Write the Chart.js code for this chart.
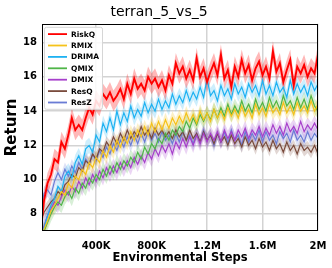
<!DOCTYPE html>
<html>
<head>
<meta charset="utf-8">
<script src="https://cdn.jsdelivr.net/npm/chart.js@4.4.0/dist/chart.umd.min.js"></script>
<style>
  html, body { margin: 0; padding: 0; background: #fff; }
  #wrap { width: 332px; height: 268px; }
</style>
</head>
<body>
<div id="wrap"><canvas id="chart" width="332" height="268"></canvas></div>
<script>
// environment steps, in thousands
var steps = [10,
  25, 50, 75, 100, 125, 150, 175, 200, 225, 250,
  275, 300, 325, 350, 375, 400, 425, 450, 475, 500,
  525, 550, 575, 600, 625, 650, 675, 700, 725, 750,
  775, 800, 825, 850, 875, 900, 925, 950, 975, 1000,
  1025, 1050, 1075, 1100, 1125, 1150, 1175, 1200, 1225, 1250,
  1275, 1300, 1325, 1350, 1375, 1400, 1425, 1450, 1475, 1500,
  1525, 1550, 1575, 1600, 1625, 1650, 1675, 1700, 1725, 1750,
  1775, 1800, 1825, 1850, 1875, 1900, 1925, 1950, 1975, 2000];

var riskQ = [7.7,
  8.8, 9.8, 10.3, 11.2, 11.0, 12.2, 11.8, 12.6, 13.6, 12.9,
  13.2, 12.9, 13.6, 14.2, 13.8, 14.6, 14.3, 15.0, 14.7, 15.1,
  14.6, 14.9, 15.3, 14.7, 15.6, 15.0, 15.9, 15.3, 15.6, 15.2,
  16.0, 15.6, 15.9, 15.4, 15.8, 15.2, 16.1, 15.6, 16.8, 16.2,
  16.6, 15.9, 16.4, 15.8, 17.1, 16.0, 16.5, 15.7, 16.3, 16.8,
  16.1, 17.3, 15.9, 16.4, 15.4, 16.6, 16.0, 17.0, 16.2, 16.7,
  15.8, 16.5, 16.9, 16.1, 16.6, 15.9, 17.5, 16.3, 16.8, 15.7,
  16.4, 17.0, 15.5, 16.6, 16.2, 16.7, 16.0, 16.5, 16.2, 17.3];

var rmix = [6.9,
  7.1, 7.6, 8.2, 8.5, 8.9, 9.3, 9.1, 9.8, 9.5, 10.2,
  10.0, 10.6, 10.3, 11.0, 10.7, 11.3, 11.0, 11.7, 11.3, 12.0,
  11.6, 12.3, 11.9, 12.5, 12.1, 12.8, 12.3, 12.9, 12.5, 13.1,
  12.6, 13.3, 12.8, 13.4, 12.9, 13.5, 13.0, 13.6, 13.2, 13.7,
  13.3, 13.9, 13.4, 13.8, 13.3, 14.0, 13.5, 13.9, 13.4, 14.1,
  13.6, 14.0, 13.5, 14.2, 13.7, 14.1, 13.6, 14.3, 13.7, 14.1,
  13.6, 14.4, 13.8, 14.2, 13.7, 14.4, 13.9, 14.2, 13.8, 14.5,
  13.9, 14.3, 13.8, 14.5, 14.0, 14.3, 13.9, 14.6, 14.0, 14.4];

var drima = [6.8,
  7.2, 7.9, 8.5, 8.9, 9.6, 9.3, 10.2, 10.5, 10.1, 11.0,
  11.4, 10.9, 11.8, 12.0, 11.6, 12.6, 12.2, 13.3, 12.8, 13.6,
  12.9, 14.0, 13.2, 13.9, 13.4, 14.3, 13.6, 14.1, 13.7, 14.5,
  13.9, 14.4, 14.0, 14.7, 14.1, 14.6, 14.2, 15.0, 14.4, 14.9,
  14.5, 15.2, 14.6, 15.1, 14.7, 15.4, 14.8, 15.9, 14.9, 15.2,
  14.6, 15.5, 14.9, 15.3, 14.7, 15.6, 15.0, 15.4, 14.8, 15.6,
  15.1, 15.5, 14.9, 15.8, 15.0, 15.5, 14.9, 15.7, 15.1, 15.4,
  14.8, 15.8, 15.0, 15.6, 15.1, 15.5, 14.9, 15.7, 15.2, 15.6];

var qmix = [6.9,
  7.0, 7.5, 8.0, 8.4, 8.7, 8.5, 9.0, 9.3, 8.9, 9.5,
  9.2, 9.8, 9.5, 10.1, 9.8, 10.3, 10.0, 10.6, 10.2, 10.8,
  10.4, 11.0, 10.6, 11.1, 10.8, 11.3, 11.0, 11.6, 11.2, 11.9,
  11.5, 12.1, 11.8, 12.4, 12.1, 12.7, 12.3, 12.9, 12.6, 13.1,
  12.8, 13.4, 13.0, 13.6, 13.2, 13.8, 13.4, 13.9, 13.5, 14.1,
  13.6, 14.2, 13.7, 14.4, 13.8, 14.3, 13.9, 14.6, 14.0, 14.4,
  13.9, 14.7, 14.1, 14.5, 14.0, 14.8, 14.2, 14.6, 14.1, 14.9,
  14.3, 14.6, 14.1, 14.8, 14.2, 14.7, 14.1, 14.9, 14.3, 14.0];

var dmix = [7.0,
  7.3, 7.9, 8.3, 8.7, 8.5, 9.0, 9.4, 9.1, 9.6, 9.3,
  9.9, 9.5, 10.1, 9.7, 10.3, 9.9, 10.5, 10.1, 10.7, 10.3,
  10.8, 10.4, 11.0, 10.6, 11.1, 10.7, 11.3, 10.9, 11.4, 11.0,
  11.6, 11.2, 11.8, 11.4, 12.0, 11.6, 12.1, 11.5, 12.2, 11.8,
  12.4, 11.9, 12.5, 12.0, 12.6, 12.1, 12.7, 12.2, 12.7, 12.3,
  12.8, 12.2, 12.9, 12.4, 12.8, 12.3, 12.9, 12.5, 13.0, 12.4,
  12.9, 12.6, 13.1, 12.5, 13.0, 12.6, 13.2, 12.7, 13.1, 12.6,
  13.3, 12.8, 13.1, 12.7, 13.4, 12.8, 13.2, 12.9, 13.3, 12.9];

var resq = [7.8,
  8.1, 8.4, 8.7, 8.9, 9.3, 9.1, 9.7, 9.9, 10.3, 10.1,
  10.7, 10.5, 11.1, 10.9, 11.5, 11.2, 11.8, 11.6, 12.2, 11.9,
  12.5, 12.1, 12.7, 12.3, 12.9, 12.4, 12.8, 12.5, 13.1, 12.6,
  12.9, 12.4, 13.0, 12.6, 12.9, 12.5, 12.8, 12.4, 12.9, 12.5,
  12.8, 12.3, 12.9, 12.4, 12.7, 12.2, 12.8, 12.3, 12.6, 12.1,
  12.7, 12.2, 12.5, 12.0, 12.6, 12.1, 12.4, 11.9, 12.5, 12.0,
  12.3, 11.8, 12.4, 11.9, 12.2, 11.7, 12.3, 11.8, 12.1, 11.6,
  12.2, 11.7, 12.0, 11.5, 12.1, 11.7, 11.9, 11.6, 12.0, 11.5];

var resz = [8.6,
  9.2, 9.4, 9.1, 9.9, 10.4, 10.0, 10.6, 10.2, 10.8, 10.4,
  11.0, 10.6, 11.2, 10.9, 11.5, 11.1, 11.7, 11.3, 11.9, 11.5,
  12.1, 11.7, 12.3, 11.9, 12.5, 12.0, 12.6, 12.1, 12.7, 12.2,
  12.8, 12.3, 12.7, 12.2, 12.8, 12.3, 12.6, 12.1, 12.7, 12.2,
  12.8, 12.3, 12.6, 12.1, 12.7, 12.2, 12.9, 12.3, 12.6, 12.0,
  12.7, 12.2, 12.8, 12.1, 12.9, 12.3, 12.6, 12.0, 12.8, 12.2,
  12.7, 12.3, 12.9, 12.2, 12.8, 12.3, 12.6, 12.1, 12.8, 12.4,
  12.7, 12.2, 12.9, 12.3, 12.6, 12.2, 12.8, 12.3, 12.7, 12.4];

// half width of the shaded band for each method
var spread = [0.6, 0.4, 0.45, 0.45, 0.45, 0.35, 0.4];

var methods = ['RiskQ', 'RMIX', 'DRIMA', 'QMIX', 'DMIX', 'ResQ', 'ResZ'];
var values = [riskQ, rmix, drima, qmix, dmix, resq, resz];
var xTicks = [400000, 800000, 1200000, 1600000, 2000000];
var yTicks = [8, 10, 12, 14, 16, 18];

var lineColors = ['#ff0000', '#f5c21b', '#1eb2f2', '#4fb548', '#a63fcb', '#7a4b3d', '#6a7cd5'];
var bandColors = ['rgba(255,0,0,0.28)', 'rgba(245,194,27,0.25)', 'rgba(30,178,242,0.22)',
  'rgba(79,181,72,0.22)', 'rgba(166,63,203,0.22)', 'rgba(122,75,61,0.22)', 'rgba(106,124,213,0.22)'];

function points(arr, off) {
  return arr.map(function (v, i) { return { x: steps[i] * 1000, y: v + off }; });
}

var datasets = [];
methods.forEach(function (name, k) {
  datasets.push({
    label: name,
    data: points(values[k], 0),
    borderColor: lineColors[k],
    borderWidth: k === 0 ? 1.9 : 1.2,
    pointRadius: 0,
    tension: 0,
    fill: false,
    order: 0
  });
});
methods.forEach(function (name, k) {
  var upperIdx = datasets.length;
  datasets.push({
    label: name + '_hi', band: true,
    data: points(values[k], spread[k]),
    borderWidth: 0, pointRadius: 0, fill: false, order: 1
  });
  datasets.push({
    label: name + '_lo', band: true,
    data: points(values[k], -spread[k]),
    borderWidth: 0, pointRadius: 0, backgroundColor: bandColors[k],
    fill: upperIdx, order: 1
  });
});

var framePlugin = {
  id: 'frame',
  afterDatasetsDraw: function (chart) {
    var a = chart.chartArea, ctx = chart.ctx;
    ctx.save();
    ctx.strokeStyle = '#000';
    ctx.lineWidth = 1;
    ctx.strokeRect(Math.round(a.left) + 0.5, Math.round(a.top) + 0.5,
      Math.round(a.right - a.left) - 1, Math.round(a.bottom - a.top) - 1);
    ctx.restore();
  }
};

var legendPlugin = {
  id: 'boxLegend',
  afterDatasetsDraw: function (chart) {
    var a = chart.chartArea, ctx = chart.ctx;
    var x0 = a.left + 2, y0 = a.top + 3, w = 58, h = 82, rowH = 11.4;
    ctx.save();
    ctx.beginPath();
    ctx.roundRect(x0 + 0.5, y0 + 0.5, w, h, 2);
    ctx.fillStyle = 'rgba(255,255,255,0.85)';
    ctx.fill();
    ctx.strokeStyle = '#d6d6d6';
    ctx.lineWidth = 1;
    ctx.stroke();
    ctx.font = 'bold 7.5px "DejaVu Sans"';
    ctx.textBaseline = 'middle';
    methods.forEach(function (name, k) {
      var y = y0 + 7.3 + k * rowH;
      ctx.beginPath();
      ctx.moveTo(x0 + 4, y);
      ctx.lineTo(x0 + 23, y);
      ctx.strokeStyle = lineColors[k];
      ctx.lineWidth = 1.8;
      ctx.stroke();
      ctx.fillStyle = '#000';
      ctx.fillText(name, x0 + 27, y + 0.5);
    });
    ctx.restore();
  }
};

function fmtSteps(v) {
  if (v >= 1000000) return (v / 1000000) + 'M';
  return (v / 1000) + 'K';
}

new Chart(document.getElementById('chart'), {
  type: 'line',
  data: { datasets: datasets },
  options: {
    responsive: false,
    animation: false,
    events: [],
    layout: { padding: { left: 0, right: 14, top: 0, bottom: 0 } },
    plugins: {
      legend: { display: false },
      tooltip: { enabled: false },
      title: {
        display: true,
        text: 'terran_5_vs_5',
        color: '#000',
        font: { family: '"DejaVu Sans"', size: 14, weight: 'normal', lineHeight: 1.2 },
        padding: { top: 4, bottom: 3 }
      }
    },
    scales: {
      x: {
        type: 'linear',
        min: 10000,
        max: 2000000,
        afterBuildTicks: function (s) { s.ticks = xTicks.map(function (v) { return { value: v }; }); },
        afterFit: function (s) { s.height = 37; s.paddingLeft = 0; s.paddingRight = 0; },
        grid: { color: '#d3d3d3', lineWidth: 1.5, drawTicks: false },
        border: { display: false },
        ticks: {
          color: '#000', padding: 9, maxRotation: 0, autoSkip: false,
          font: { family: '"DejaVu Sans"', size: 10, weight: 'bold' },
          callback: function (v) { return fmtSteps(v); }
        },
        title: {
          display: true, text: 'Environmental Steps', color: '#000',
          font: { family: '"DejaVu Sans"', size: 11.5, weight: 'bold' },
          padding: { top: 0, bottom: 3 }
        }
      },
      y: {
        min: 7,
        max: 19.1,
        afterBuildTicks: function (s) { s.ticks = yTicks.map(function (v) { return { value: v }; }); },
        afterFit: function (s) { s.width = 42; s.paddingTop = 0; s.paddingBottom = 0; },
        grid: { color: '#d3d3d3', lineWidth: 1.5, drawTicks: false },
        border: { display: false },
        ticks: {
          color: '#000', padding: 5,
          font: { family: '"DejaVu Sans"', size: 10, weight: 'bold' }
        },
        title: {
          display: true, text: 'Return', color: '#000',
          font: { family: '"DejaVu Sans"', size: 15, weight: 'bold' },
          padding: { top: 3, bottom: 0 }
        }
      }
    }
  },
  plugins: [framePlugin, legendPlugin]
});
</script>
</body>
</html>
